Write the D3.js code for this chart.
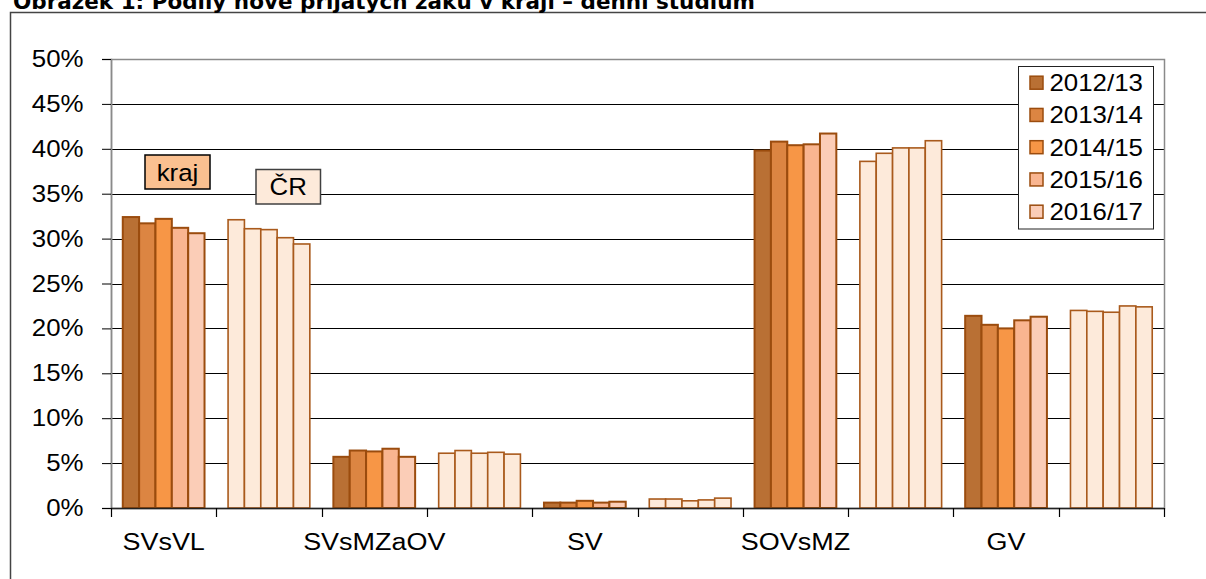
<!DOCTYPE html>
<html>
<head>
<meta charset="utf-8">
<script src="https://cdn.jsdelivr.net/npm/d3@7"></script>
<style>
  body { margin: 0; background: #fff; }
  svg { display: block; }
  text { font-family: "Liberation Sans", Arial, sans-serif; }
</style>
</head>
<body>
<svg id="chart" width="1206" height="579"></svg>
<script>
// categories (school types), years, values in %
const categories = ["SVsVL", "SVsMZaOV", "SV", "SOVsMZ", "GV"];
const years = ["2012/13", "2013/14", "2014/15", "2015/16", "2016/17"];
const groups = ["kraj", "ČR"];

// kraj values, one row per category, one column per year
const krajValues = [
  [32.4, 31.7, 32.2, 31.2, 30.6],
  [5.7, 6.4, 6.3, 6.6, 5.7],
  [0.6, 0.6, 0.8, 0.6, 0.7],
  [39.8, 40.8, 40.4, 40.5, 41.7],
  [21.4, 20.4, 20.0, 20.9, 21.3]
];
// ČR values
const crValues = [
  [32.1, 31.1, 31.0, 30.1, 29.4],
  [6.1, 6.4, 6.1, 6.2, 6.0],
  [1.0, 1.0, 0.8, 0.9, 1.1],
  [38.6, 39.5, 40.1, 40.1, 40.9],
  [22.0, 21.9, 21.8, 22.5, 22.4]
];
const yTicks = [0, 5, 10, 15, 20, 25, 30, 35, 40, 45, 50];

const yearColors = ["#b97034", "#dc8542", "#f79646", "#f9b590", "#fbcdb7"];
const crColor = "#fdeada";
const barStroke = "#9b4c0e";
const stretch = 1.1; // text in the picture is a little wider than the font

const svg = d3.select("#chart");

// outer frame + caption (cut off at the top, as in the source)
svg.append("rect")
  .attr("x", 10.5).attr("y", 12.5)
  .attr("width", 1230).attr("height", 620)
  .attr("fill", "none").attr("stroke", "#444").attr("stroke-width", 1.5);

svg.append("text")
  .attr("x", 13).attr("y", 9)
  .style("font-family", "'DejaVu Sans', Verdana, sans-serif")
  .style("font-weight", "bold").style("font-size", "21.5px")
  .text("Obrázek 1: Podíly nově přijatých žáků v kraji – denní studium");

const plotLeft = 111, plotRight = 1164, plotTop = 59, plotBottom = 508;

// one slot per category & group (kraj, ČR)
const slots = [];
categories.forEach((c, ci) => {
  groups.forEach((g) => { slots.push({ cat: c, ci: ci, group: g }); });
});

const x0 = d3.scaleBand()
  .domain(slots.map((s, i) => i))
  .range([plotLeft, plotRight])
  .padding(0);

const x1 = d3.scaleBand()
  .domain(years)
  .range([0, x0.bandwidth()])
  .paddingInner(0)
  .paddingOuter(0.72);

const y = d3.scaleLinear().domain([0, 50]).range([plotBottom, plotTop]);

// gridlines
svg.append("g")
  .selectAll("line")
  .data(yTicks.filter((t) => t > 0 && t < 50))
  .enter().append("line")
  .attr("x1", plotLeft).attr("x2", plotRight)
  .attr("y1", (d) => Math.round(y(d)) + 0.5)
  .attr("y2", (d) => Math.round(y(d)) + 0.5)
  .attr("stroke", "#000").attr("stroke-width", 1);

// plot area border (grey)
svg.append("rect")
  .attr("x", plotLeft + 0.5).attr("y", plotTop + 0.5)
  .attr("width", plotRight - plotLeft).attr("height", plotBottom - plotTop)
  .attr("fill", "none").attr("stroke", "#8a8a8a").attr("stroke-width", 1.5);

// bars
const slotG = svg.append("g")
  .selectAll("g")
  .data(slots)
  .enter().append("g")
  .attr("transform", (d, i) => "translate(" + x0(i) + ",0)");

slotG.selectAll("rect")
  .data((s) => years.map((yr, yi) => ({
    year: yr,
    yi: yi,
    group: s.group,
    value: s.group === "kraj" ? krajValues[s.ci][yi] : crValues[s.ci][yi]
  })))
  .enter().append("rect")
  .attr("x", (d) => x1(d.year))
  .attr("y", (d) => y(d.value))
  .attr("width", x1.bandwidth())
  .attr("height", (d) => y(0) - y(d.value))
  .attr("fill", (d) => d.group === "kraj" ? yearColors[d.yi] : crColor)
  .attr("stroke", (d) => d.group === "kraj" ? barStroke : "#a95a1c")
  .attr("stroke-width", (d) => d.group === "kraj" ? 2 : 1.6);

// y axis
const yAxis = svg.append("g")
  .attr("transform", "translate(" + plotLeft + ",0)")
  .call(d3.axisLeft(y).tickValues(yTicks).tickFormat((d) => d + "%")
    .tickSize(9).tickPadding(16));
yAxis.select(".domain").attr("stroke", "#8a8a8a").attr("stroke-width", 1.5);
yAxis.selectAll(".tick line").attr("stroke", "#000");
yAxis.selectAll(".tick text")
  .style("font-size", "23.5px").attr("fill", "#000")
  .attr("transform", "scale(" + stretch + ",1)");

// x axis: baseline with ticks between slots
const xTickPos = slots.map((s, i) => x0(i)).concat([plotRight]);
svg.append("line")
  .attr("x1", plotLeft).attr("x2", plotRight)
  .attr("y1", plotBottom + 0.5).attr("y2", plotBottom + 0.5)
  .attr("stroke", "#222").attr("stroke-width", 1.5);
svg.append("g")
  .selectAll("line")
  .data(xTickPos)
  .enter().append("line")
  .attr("x1", (d) => Math.round(d) + 0.5).attr("x2", (d) => Math.round(d) + 0.5)
  .attr("y1", plotBottom).attr("y2", plotBottom + 9)
  .attr("stroke", "#000").attr("stroke-width", 1.2);

// category labels centred under the kraj slot
svg.append("g")
  .selectAll("text")
  .data(categories)
  .enter().append("text")
  .attr("transform", (d, i) => "translate(" + (x0(i * 2) + x0.bandwidth() / 2) + ",550) scale(" + stretch + ",1)")
  .attr("text-anchor", "middle")
  .style("font-size", "24.5px")
  .text((d) => d);

// "kraj" and "ČR" tags
const tags = [
  { label: "kraj", x: 145, y: 155, w: 65, h: 34, fill: "#fac090", stroke: "#000" },
  { label: "ČR", x: 256, y: 169.5, w: 64.5, h: 34.5, fill: "#fdeada", stroke: "#404040" }
];
const tagG = svg.append("g").selectAll("g").data(tags).enter().append("g");
tagG.append("rect")
  .attr("x", (d) => d.x).attr("y", (d) => d.y)
  .attr("width", (d) => d.w).attr("height", (d) => d.h)
  .attr("fill", (d) => d.fill).attr("stroke", (d) => d.stroke).attr("stroke-width", 1.5);
tagG.append("text")
  .attr("transform", (d) => "translate(" + (d.x + d.w / 2) + "," + (d.y + d.h / 2 + 8.5) + ") scale(" + stretch + ",1)")
  .attr("text-anchor", "middle")
  .style("font-size", "23.5px")
  .text((d) => d.label);

// legend
const legend = svg.append("g").attr("transform", "translate(1018.5,66.5)");
legend.append("rect")
  .attr("width", 135).attr("height", 162.5)
  .attr("fill", "#fff").attr("stroke", "#222").attr("stroke-width", 1);
const legendRow = legend.selectAll("g.row")
  .data(years)
  .enter().append("g")
  .attr("class", "row")
  .attr("transform", (d, i) => "translate(0," + (16.2 + i * 32.25) + ")");
legendRow.append("rect")
  .attr("x", 11.5).attr("y", -6.5).attr("width", 13).attr("height", 13)
  .attr("fill", (d, i) => yearColors[i])
  .attr("stroke", barStroke).attr("stroke-width", 1.5);
legendRow.append("text")
  .attr("transform", "translate(31,8.4) scale(" + stretch + ",1)")
  .style("font-size", "23.5px")
  .text((d) => d);
</script>
</body>
</html>
